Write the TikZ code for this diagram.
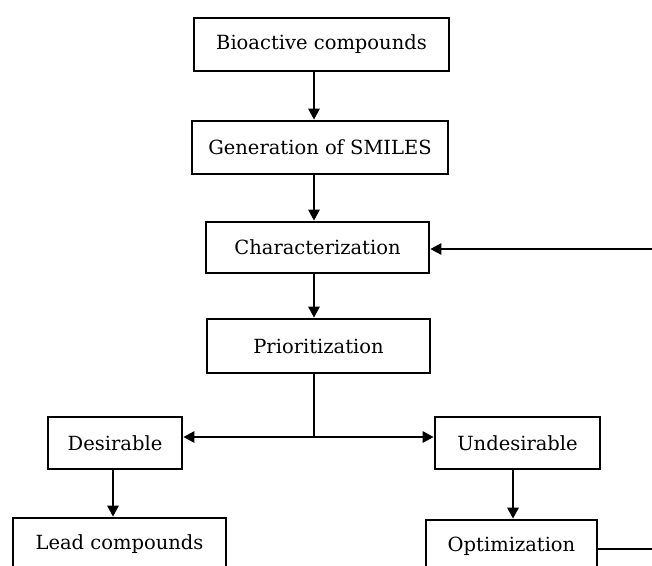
\documentclass[tikz,border=0pt]{standalone}
\usepackage{fontspec}
\setmainfont{DejaVu Serif}
\usetikzlibrary{arrows.meta}
\begin{document}
\begin{tikzpicture}[x=1pt,y=-1pt,
  box/.style={draw, line width=2.6pt, inner sep=0pt, font=\fontsize{19.5}{22}\selectfont},
  arr/.style={line width=2.6pt, -{Triangle[length=11pt,width=11pt]}},
  ln/.style={line width=2.6pt}]
\clip (0,0) rectangle (652,565);
\fill[white] (0,0) rectangle (652,565);
\node[box, minimum width=255pt, minimum height=53pt] (bio) at (321.5,44.5) {Bioactive compounds};
\node[box, minimum width=256pt, minimum height=53pt] (smiles) at (320,147.5) {Generation of SMILES};
\node[box, minimum width=223pt, minimum height=51pt] (char) at (317.5,247.5) {Characterization};
\node[box, minimum width=223pt, minimum height=54pt] (prio) at (318.5,346) {Prioritization};
\node[box, minimum width=134pt, minimum height=52pt] (des) at (115,443) {Desirable};
\node[box, minimum width=165pt, minimum height=52pt] (undes) at (517.5,443) {Undesirable};
\node[box, minimum width=213pt, minimum height=53pt] (lead) at (119.5,544.5) {Lead compounds};
\node[box, minimum width=171pt, minimum height=53pt] (opt) at (511.5,546.5) {Optimization};
\coordinate (spine) at (314,0);
\coordinate (dx) at (113,0);
\coordinate (ux) at (513,0);
\coordinate (split) at (314,437);
\coordinate (fb1) at (670,549);
\coordinate (fb2) at (670,249);
\draw[arr] (bio.south -| spine) -- (smiles.north -| spine);
\draw[arr] (smiles.south -| spine) -- (char.north -| spine);
\draw[arr] (char.south -| spine) -- (prio.north -| spine);
\draw[ln] (prio.south -| spine) -- (split);
\draw[arr] (split) -- (split -| des.east);
\draw[arr] (split) -- (split -| undes.west);
\draw[arr] (des.south -| dx) -- (lead.north -| dx);
\draw[arr] (undes.south -| ux) -- (opt.north -| ux);
\draw[arr] (opt.east |- fb1) -- (fb1) -- (fb2) -- (char.east |- fb2);
\end{tikzpicture}
\end{document}
